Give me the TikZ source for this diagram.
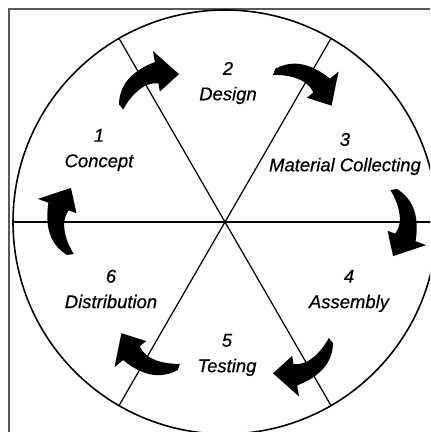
\documentclass[tikz,border=0pt]{standalone}
\usepackage{fontspec}
\setmainfont{Liberation Sans}
\newfontfamily\stagefont{Liberation Sans}[FakeBold=0.6]
\begin{document}
\begin{tikzpicture}[x=0.02cm,y=0.02cm,
  stage/.style={font=\stagefont\fontsize{10.5}{14.5}\selectfont\itshape,align=center,inner sep=0pt},
  rim/.style={line width=0.9pt},
  spoke/.style={line width=0.7pt},
  frame/.style={line width=0.9pt,draw=black!65}
]
  \clip (-225,-210) rectangle (205,222);
  \draw[frame] (-216,-210) -- (-216,213) -- (205,213);
  \coordinate (hub) at (0,0);
  \draw[rim] (hub) circle (212);
  \foreach \a in {0,60,...,300}
    \draw[spoke] (hub) -- (\a:212);
  % stages
  \node[stage] (concept) at (-126,72) {1\\Concept};
  \node[stage] (design) at (3,139) {2\\Design};
  \node[stage] (material) at (120,68) {3\\Material Collecting};
  \node[stage] (assembly) at (124,-69) {4\\Assembly};
  \node[stage] (testing) at (2,-133) {5\\Testing};
  \node[stage] (distribution) at (-114,-67) {6\\Distribution};
  % curved arrows across the spokes
  \foreach \a/\r in {120/167,60/170,0/184,-60/171,-120/164,180/170}
    \fill[rotate=\a,shift={(\r,0)},scale=1.1] (-17,29) -- (-11,30)
      .. controls (2,22) and (10,8) .. (6,-17.5) -- (15.5,-21) -- (-14.5,-31)
      -- (-19.5,-8) -- (-12.5,-10.6) .. controls (-4,0) and (-10,18) .. (-17,29) -- cycle;
\end{tikzpicture}
\end{document}
